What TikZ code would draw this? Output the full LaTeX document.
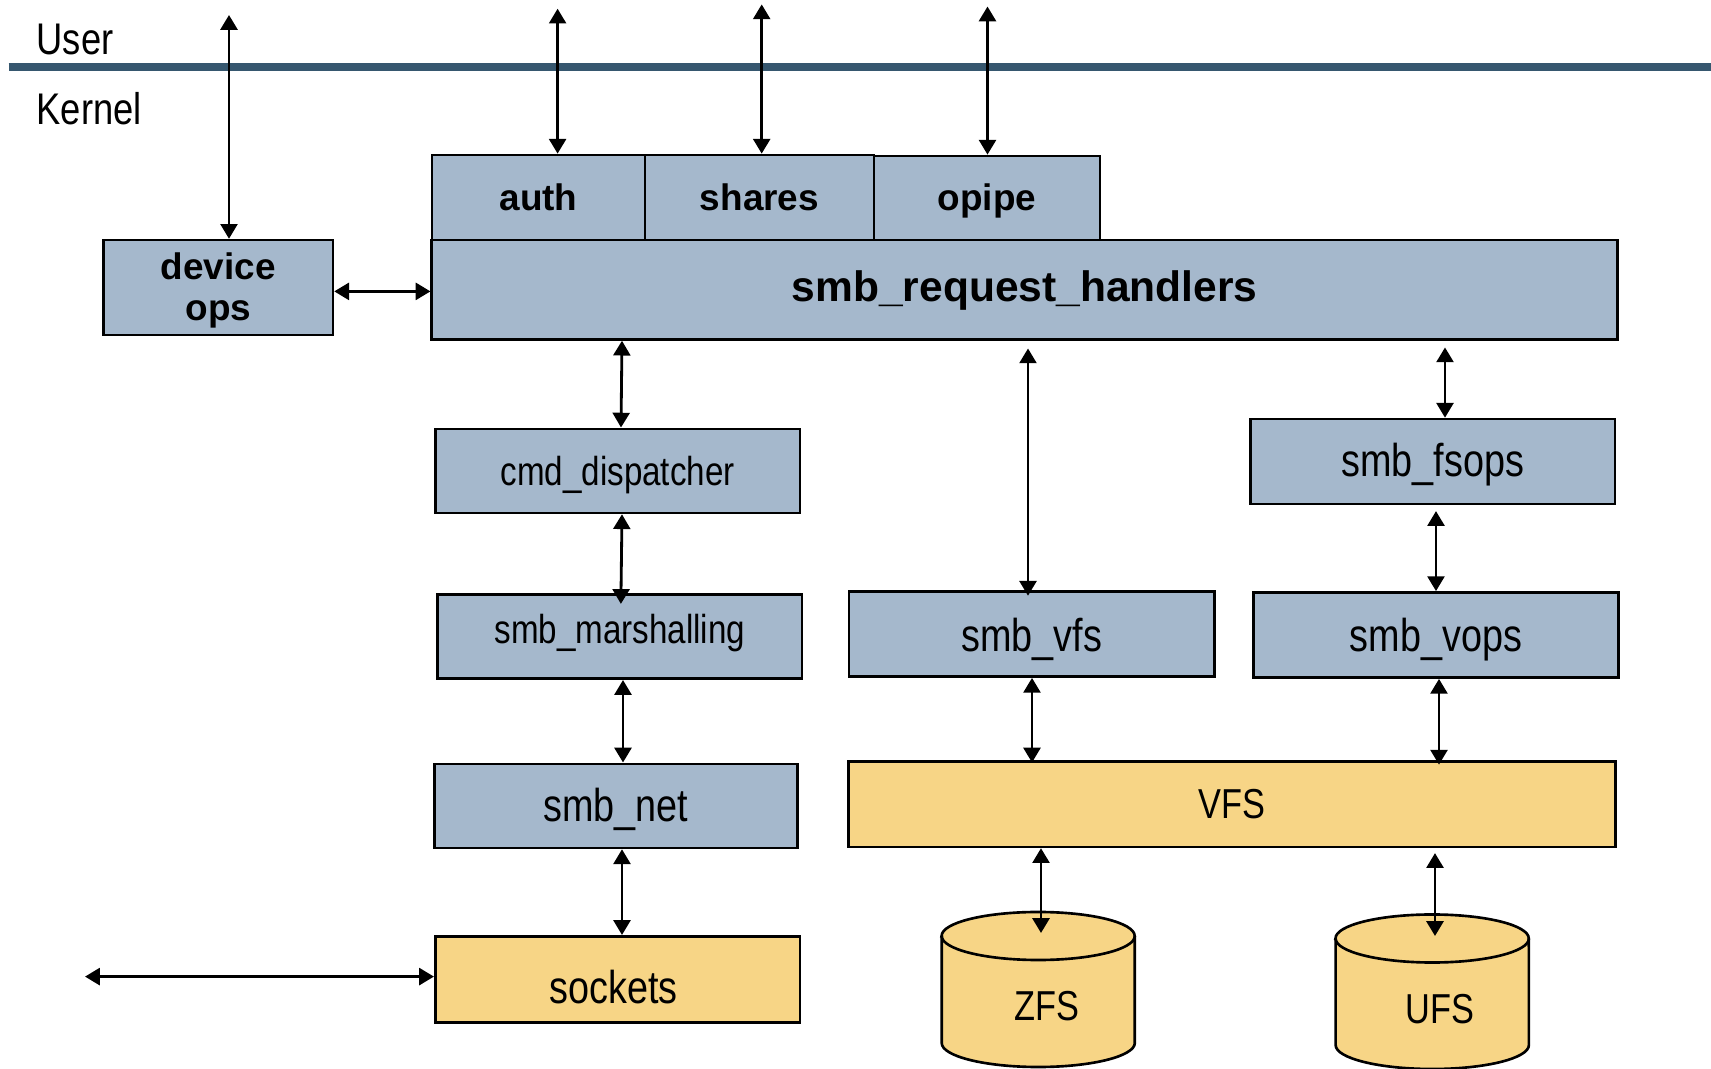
\documentclass[tikz,border=0pt]{standalone}
\usepackage{fontspec}
\setmainfont{Liberation Sans}
\newfontfamily\narrowfont[FakeStretch=0.82]{Liberation Sans}
\usetikzlibrary{arrows.meta}
\definecolor{boxblue}{RGB}{165,184,204}
\definecolor{boxyellow}{RGB}{247,213,134}
\definecolor{divider}{RGB}{54,87,111}
% move a label down inside its box without changing the box's centring
\newcommand\lowered[2]{\raisebox{-#1}[\height][\depth]{#2}}

\begin{document}
\begin{tikzpicture}[x=0.01cm,y=0.01cm,
  block/.style={draw=black, line width=0.75pt, inner sep=0pt, align=center},
  bluebox/.style={block, fill=boxblue},
  yellowbox/.style={block, fill=boxyellow},
  boldlabel/.style={font=\bfseries\fontsize{10.5pt}{11.6pt}\selectfont},
  biglabel/.style={font=\bfseries\fontsize{12.1pt}{14pt}\selectfont},
  widelabel/.style={font=\narrowfont\fontsize{13.1pt}{15pt}\selectfont},
  smalllabel/.style={font=\narrowfont\fontsize{11.5pt}{13pt}\selectfont},
  fslabel/.style={font=\narrowfont\fontsize{11.9pt}{14pt}\selectfont},
  layerlabel/.style={font=\narrowfont\fontsize{12.6pt}{14pt}\selectfont, anchor=base west, inner sep=0pt},
  link/.style={line width=0.8pt, {Triangle[length=4.2pt,width=4.8pt]}-{Triangle[length=4.2pt,width=4.8pt]}},
  disk/.style={fill=boxyellow, draw=black, line width=0.75pt}
]
\useasboundingbox[fill=white] (0,0) rectangle (1711,1069);

% user / kernel boundary
\draw[divider, line width=2.3pt] (8.7,1002.4) -- (1711,1002.4);
\node[layerlabel] (user) at (36,1014.4) {User};
\node[layerlabel] (kernel) at (36,944.6) {Kernel};

% request handling layer
\node[bluebox, boldlabel, minimum width=2.291cm, minimum height=0.949cm] (devops) at (218.3,781.4) {\lowered{0.9pt}{device}\\\lowered{0.9pt}{ops}};
\node[bluebox, biglabel, minimum width=11.851cm, minimum height=0.994cm] (rh) at (1024.7,779.3) {\lowered{0.3pt}{smb\_request\_handlers}};
\node[bluebox, boldlabel, minimum width=2.128cm, minimum height=0.85cm] (auth) at (538.5,871.5) {auth};
\node[bluebox, boldlabel, minimum width=2.292cm, minimum height=0.85cm] (shares) at (759.5,871.5) {shares};
\node[bluebox, boldlabel, minimum width=2.259cm, minimum height=0.84cm] (opipe) at (987,871) {\lowered{0.9pt}{opipe}};

% protocol stack
\node[bluebox, smalllabel, minimum width=3.644cm, minimum height=0.841cm] (cmd) at (617.6,598.1) {\lowered{1.2pt}{cmd\_dispatcher}};
\node[bluebox, smalllabel, minimum width=3.644cm, minimum height=0.84cm] (marsh) at (619.8,432.3) {\lowered{-0.9pt}{smb\_marshalling}};
\node[bluebox, widelabel, minimum width=3.634cm, minimum height=0.841cm] (net) at (616,263.1) {\lowered{0.9pt}{smb\_net}};
\node[yellowbox, widelabel, minimum width=3.644cm, minimum height=0.862cm] (sockets) at (617.6,89.6) {\hspace*{-2.4pt}\lowered{2.3pt}{sockets}};

% file system side
\node[bluebox, widelabel, minimum width=3.655cm, minimum height=0.851cm] (smbvfs) at (1031.8,435) {\lowered{1.5pt}{smb\_vfs}};
\node[bluebox, widelabel, minimum width=3.645cm, minimum height=0.851cm] (fsops) at (1432.8,607.4) {\lowered{0.9pt}{smb\_fsops}};
\node[bluebox, widelabel, minimum width=3.645cm, minimum height=0.851cm] (vops) at (1436,434) {\lowered{1.2pt}{smb\_vops}};
\node[yellowbox, fslabel, minimum width=7.66cm, minimum height=0.851cm] (vfs) at (1232,264.7) {VFS};

% disks
\filldraw[disk] (941.7,133) -- (941.7,26)
  arc[start angle=180, end angle=360, x radius=0.965cm, y radius=0.24cm]
  -- (1134.7,133)
  arc[start angle=0, end angle=180, x radius=0.965cm, y radius=0.24cm] -- cycle;
\draw[disk, fill=none] (941.7,133) arc[start angle=180, end angle=360, x radius=0.965cm, y radius=0.24cm];
\node[fslabel] (zfs) at (1046.5,63) {ZFS};

\filldraw[disk] (1335.6,130.5) -- (1335.6,24)
  arc[start angle=180, end angle=360, x radius=0.966cm, y radius=0.24cm]
  -- (1528.8,130.5)
  arc[start angle=0, end angle=180, x radius=0.966cm, y radius=0.24cm] -- cycle;
\draw[disk, fill=none] (1335.6,130.5) arc[start angle=180, end angle=360, x radius=0.966cm, y radius=0.24cm];
\node[fslabel] (ufs) at (1440,60) {UFS};

% free ends of connectors
\coordinate (devup) at (229,1054);
\coordinate (authup) at (557.6,1060.3);
\coordinate (sharesup) at (761.7,1064.6);
\coordinate (opipeup) at (987.5,1062.5);
\coordinate (netout) at (85,92.4);
\coordinate (zfscap) at (1041,136);
\coordinate (ufscap) at (1435,133);

% connectors
\draw[link] (devup) -- (devops.north -| devup);
\draw[link] (authup) -- (auth.north -| authup);
\draw[link] (sharesup) -- (shares.north -| sharesup);
\draw[link] (opipeup) -- (opipe.north -| opipeup);
\draw[link] (devops.east |- 0,777.6) -- (rh.west |- 0,777.6);
\draw[link] (rh.south -| 622,0) -- (cmd.north -| 621,0);
\draw[link, shorten >=-3pt] (cmd.south -| 622,0) -- (marsh.north -| 621,0);
\draw[link] (marsh.south -| 623,0) -- (net.north -| 623,0);
\draw[link] (net.south -| 622,0) -- (sockets.north -| 622,0);
\draw[link] (netout) -- (sockets.west |- netout);
\draw[link, shorten <=2.2pt, shorten >=-1.6pt] (rh.south -| 1028,0) -- (smbvfs.north -| 1028,0);
\draw[link, shorten <=1.9pt] (rh.south -| 1445,0) -- (fsops.north -| 1445,0);
\draw[link, shorten <=1.6pt] (fsops.south -| 1436,0) -- (vops.north -| 1436,0);
\draw[link, shorten >=-0.6pt] (smbvfs.south -| 1032,0) -- (vfs.north -| 1032,0);
\draw[link, shorten >=-1.2pt] (vops.south -| 1439,0) -- (vfs.north -| 1439,0);
\draw[link] (vfs.south -| zfscap) -- (zfscap);
\draw[link, shorten <=1.4pt] (vfs.south -| ufscap) -- (ufscap);
\end{tikzpicture}
\end{document}
